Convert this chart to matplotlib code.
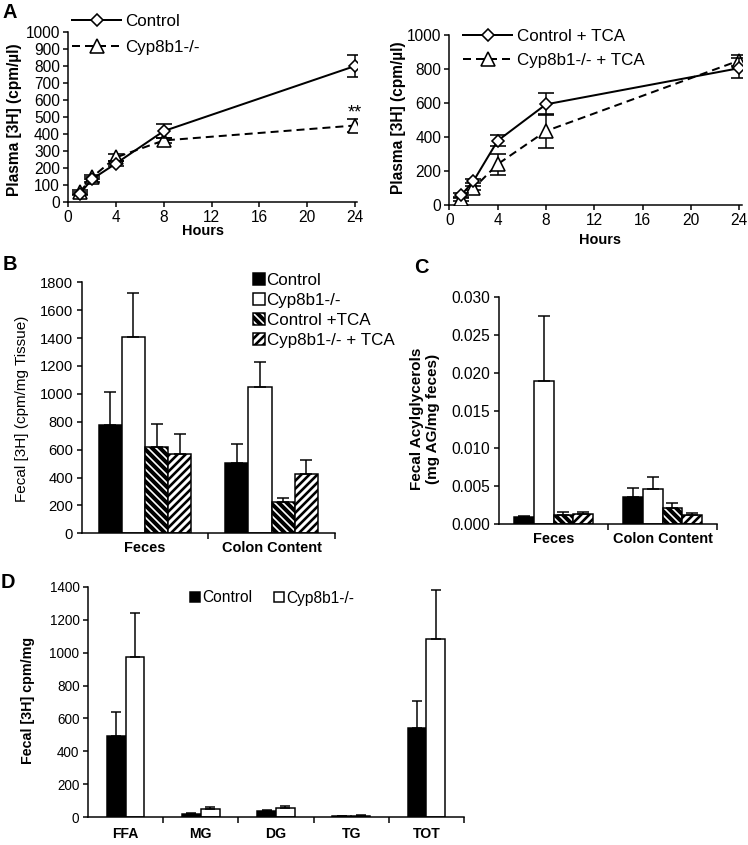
import matplotlib
matplotlib.use('Agg')
import matplotlib.pyplot as plt
import numpy as np
from matplotlib.ticker import FormatStrFormatter, FixedLocator
from matplotlib.lines import Line2D

# ---------------- data ----------------
hours = [1, 2, 4, 8, 24]
a1_ctrl = [49, 134, 226, 417, 800]
a1_ctrl_err = [10, 14, 15, 40, 62]
a1_cyp = [59, 145, 262, 362, 450]
a1_cyp_err = [10, 12, 20, 15, 40]
a1_labels = ['Control', 'Cyp8b1-/-']

a2_ctrl = [59, 141, 378, 592, 805]
a2_ctrl_err = [10, 12, 33, 65, 60]
a2_cyp = [33, 98, 240, 435, 850]
a2_cyp_err = [10, 12, 62, 100, 30]
a2_labels = ['Control + TCA', 'Cyp8b1-/- + TCA']

bc_groups = ['Feces', 'Colon Content']
bc_series = ['Control', 'Cyp8b1-/-', 'Control +TCA', 'Cyp8b1-/- + TCA']
b_vals = [[777, 507], [1410, 1047], [622, 227], [569, 423]]
b_errs = [[234, 136], [311, 184], [160, 24], [141, 101]]

c_vals = [[0.00088, 0.00362], [0.01893, 0.00459], [0.00120, 0.00216], [0.00128, 0.00120]]
c_errs = [[0.00022, 0.00110], [0.00860, 0.00163], [0.00043, 0.00058], [0.00026, 0.00030]]

d_groups = ['FFA', 'MG', 'DG', 'TG', 'TOT']
d_series = ['Control', 'Cyp8b1-/-']
d_vals = [[494, 18, 40, 5, 545], [976, 51, 55, 10, 1082]]
d_errs = [[143, 6, 5, 2, 160], [263, 14, 16, 5, 300]]

# ---------------- setup ----------------
plt.rcParams['font.family'] = ['Liberation Sans', 'DejaVu Sans']
plt.rcParams['axes.linewidth'] = 1.5
plt.rcParams['hatch.color'] = 'black'

DPI = 72
W, H = 748, 845
fig = plt.figure(figsize=(W / DPI, H / DPI), dpi=DPI)


def add_ax(l, t, r, b):
    ax = fig.add_axes([l / W, 1 - b / H, (r - l) / W, (b - t) / H])
    for s in ('top', 'right'):
        ax.spines[s].set_visible(False)
    ax.patch.set_alpha(0)
    return ax


def ftext(x, y, s, **kw):
    return fig.text(x / W, 1 - y / H, s, **kw)


def set_hlw(p, w):
    if hasattr(p, 'set_hatch_linewidth'):
        p.set_hatch_linewidth(w)


# ---------------- panel A ----------------
def line_panel(ax, y1, e1, y2, e2, labels, leg_xy, fs_leg, row_sp):
    ax.errorbar(hours, y1, yerr=e1, color='black', lw=2, marker='D', ms=8.5,
                mfc='white', mec='black', mew=1.6, capsize=8, elinewidth=1.5,
                capthick=1.5, zorder=4)
    ax.errorbar(hours, y2, yerr=e2, color='black', lw=2, ls=(0, (4, 2.5)),
                marker='^', ms=14, mfc='white', mec='black', mew=1.6, capsize=8,
                elinewidth=1.5, capthick=1.5, zorder=3)
    ax.set_xlim(0, 24.2)
    ax.set_ylim(0, 1000)
    ax.set_xticks(range(0, 25, 4))
    ax.tick_params(axis='both', direction='out', length=5, width=1.5,
                   labelsize=15.5, pad=3)
    handles = [Line2D([], [], color='black', lw=2, marker='D', ms=8.5, mfc='white',
                      mec='black', mew=1.6),
               Line2D([], [], color='black', lw=2, ls=(0, (4, 2.5)), marker='^', ms=14,
                      mfc='white', mec='black', mew=1.6)]
    leg = ax.legend(handles, labels, loc='upper left',
                    bbox_to_anchor=(leg_xy[0] / W, 1 - leg_xy[1] / H),
                    bbox_transform=fig.transFigure, frameon=False, fontsize=fs_leg,
                    handlelength=2.9, handletextpad=0.25, labelspacing=row_sp,
                    borderpad=0, borderaxespad=0)
    return leg


axA1 = add_ax(68, 32, 357.4, 202)
line_panel(axA1, a1_ctrl, a1_ctrl_err, a1_cyp, a1_cyp_err, a1_labels, (72, 14), 17, 0.62)
axA1.set_yticks(range(0, 1001, 100))
axA1.text(24, 525, '**', ha='center', va='center', fontsize=18)

axA2 = add_ax(449.3, 35, 741.7, 205)
line_panel(axA2, a2_ctrl, a2_ctrl_err, a2_cyp, a2_cyp_err, a2_labels, (463, 29), 17, 0.5)
axA2.set_yticks(range(0, 1001, 200))

ftext(203, 231, 'Hours', ha='center', va='center', fontsize=14.5, fontweight='bold')
ftext(600, 240, 'Hours', ha='center', va='center', fontsize=14.5, fontweight='bold')
ftext(15, 120, 'Plasma [3H] (cpm/\u00b5l)', ha='center', va='center', rotation=90,
      fontsize=15.5, fontweight='bold')
ftext(398, 118, 'Plasma [3H] (cpm/\u00b5l)', ha='center', va='center', rotation=90,
      fontsize=15.5, fontweight='bold')

# ---------------- bar panels ----------------
styles4 = [dict(fc='black', hatch=None, hlw=1.0),
           dict(fc='white', hatch=None, hlw=1.0),
           dict(fc='white', hatch='\\\\\\', hlw=4.0),
           dict(fc='white', hatch='///', hlw=2.6)]


def bar_panel(ax, vals, errs, styles, width, ngroups, capsize=6):
    n = len(vals)
    x = np.arange(ngroups)
    for i in range(n):
        pos = x + (i - (n - 1) / 2) * width
        st = styles[i]
        with plt.rc_context({'hatch.linewidth': st['hlw']}):
            bars = ax.bar(pos, vals[i], width, color=st['fc'], edgecolor='black', lw=1.5,
                          hatch=st['hatch'], zorder=2)
        for p in bars:
            set_hlw(p, st['hlw'])
        ax.errorbar(pos, vals[i], yerr=[np.zeros(ngroups), errs[i]], fmt='none',
                    ecolor='black', elinewidth=1.5, capsize=capsize, capthick=1.5, zorder=3)
    ax.set_xlim(-0.5, ngroups - 0.5)
    ax.set_xticks(x)
    ax.xaxis.set_minor_locator(FixedLocator(np.arange(0.5, ngroups, 1.0)))
    ax.tick_params(axis='x', which='major', length=0, pad=8)
    ax.tick_params(axis='x', which='minor', length=6, width=1.5, direction='out')
    ax.tick_params(axis='y', direction='out', length=5, width=1.5)
    return ax


def fix_legend_hatch(leg, styles):
    for p, st in zip(leg.get_patches(), styles):
        set_hlw(p, st['hlw'])


# B
axB = add_ax(81.7, 282.3, 335, 533.3)
bar_panel(axB, b_vals, b_errs, styles4, 0.183, 2)
for i, lab in enumerate(bc_series):
    axB.containers[2 * i].set_label(lab)
axB.set_ylim(0, 1800)
axB.set_yticks(range(0, 1801, 200))
axB.set_xticklabels(bc_groups, fontsize=14.5, fontweight='bold')
axB.tick_params(axis='y', labelsize=14.8)
legB = axB.legend(loc='upper left', bbox_to_anchor=(253 / W, 1 - 273 / H),
                  bbox_transform=fig.transFigure, frameon=False, fontsize=17,
                  handlelength=0.7, handleheight=0.7, handletextpad=0.1,
                  labelspacing=0.3, borderpad=0, borderaxespad=0)
fix_legend_hatch(legB, styles4)
ftext(22, 409, 'Fecal [3H] (cpm/mg Tissue)', ha='center', va='center', rotation=90,
      fontsize=15.3)

# C
axC = add_ax(499, 297.3, 717, 524)
bar_panel(axC, c_vals, c_errs, styles4, 0.183, 2)
axC.set_ylim(0, 0.030)
axC.set_yticks(np.arange(0, 0.0301, 0.005))
axC.yaxis.set_major_formatter(FormatStrFormatter('%.3f'))
axC.set_xticklabels(bc_groups, fontsize=14.5, fontweight='bold')
axC.tick_params(axis='y', labelsize=15.5)
ftext(425, 419, 'Fecal Acylglycerols\n(mg AG/mg feces)', ha='center', va='center',
      rotation=90, fontsize=15.3, fontweight='bold', linespacing=1.1)

# D
stylesD = styles4[:2]
axD = add_ax(88, 586.7, 464, 817.3)
bar_panel(axD, d_vals, d_errs, stylesD, 0.25, 5, capsize=5)
for i, lab in enumerate(d_series):
    axD.containers[2 * i].set_label(lab)
axD.set_ylim(0, 1400)
axD.set_yticks(range(0, 1401, 200))
axD.set_xticklabels(d_groups, fontsize=14, fontweight='bold')
axD.tick_params(axis='x', which='major', pad=10)
axD.tick_params(axis='y', labelsize=13.5)
legD = axD.legend(loc='center left', bbox_to_anchor=(190 / W, 1 - 598 / H),
                  bbox_transform=fig.transFigure, frameon=False, fontsize=15.5,
                  ncol=2, handlelength=0.65, handleheight=0.65, handletextpad=0.15,
                  columnspacing=1.4, borderpad=0, borderaxespad=0)
ftext(28, 700, 'Fecal [3H] cpm/mg', ha='center', va='center', rotation=90,
      fontsize=14.3, fontweight='bold')

# panel letters
ftext(10, 13, 'A', ha='center', va='center', fontsize=20, fontweight='bold')
ftext(10, 264, 'B', ha='center', va='center', fontsize=20, fontweight='bold')
ftext(421, 268, 'C', ha='center', va='center', fontsize=20, fontweight='bold')
ftext(8, 582, 'D', ha='center', va='center', fontsize=20, fontweight='bold')

fig.savefig('out.png', dpi=DPI)
